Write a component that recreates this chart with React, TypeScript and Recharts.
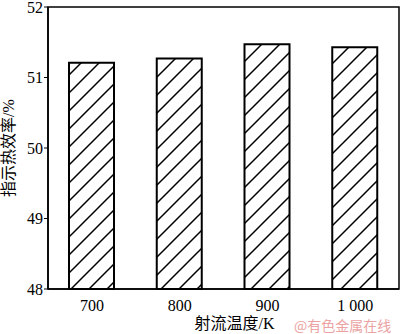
import { BarChart, Bar, XAxis, YAxis, Label, ReferenceArea } from "recharts";

const temperatures = ["700", "800", "900", "1 000"];
const efficiency = [51.21, 51.27, 51.47, 51.43];
const yTicks = [48, 49, 50, 51, 52];

const data = temperatures.map((t, i) => ({ name: t, value: efficiency[i] }));

const serif = "'Liberation Serif', 'Noto Sans CJK SC', serif";

export default function App() {
  return (
    <div style={{ position: "absolute", left: 0, top: 0, width: 400, height: 334, background: "#fff" }}>
      <BarChart
        width={400}
        height={334}
        data={data}
        margin={{ top: 7, right: 1, bottom: 0, left: 0 }}
      >
        <defs>
          <pattern id="hatch" patternUnits="userSpaceOnUse" width={18} height={18}>
            <path
              d="M0,18 L18,0 M-4.5,4.5 L4.5,-4.5 M13.5,22.5 L22.5,13.5"
              stroke="#000"
              strokeWidth={1.5}
            />
          </pattern>
        </defs>
        <ReferenceArea y1={48} y2={52} fill="none" stroke="#000" strokeWidth={1.5} ifOverflow="visible" />
        <XAxis
          dataKey="name"
          height={45}
          tickLine={false}
          axisLine={{ stroke: "#000", strokeWidth: 1.5 }}
          tick={{ fill: "#000", fontSize: 16, fontFamily: serif }}
          tickMargin={5}
        >
          <Label
            value="射流温度/K"
            position="insideBottom"
            dx={11}
            offset={5}
            style={{ fill: "#000", fontSize: 16, fontFamily: serif }}
          />
        </XAxis>
        <YAxis
          domain={[48, 52]}
          ticks={yTicks}
          width={48}
          tickSize={4}
          tickMargin={1}
          interval={0}
          axisLine={{ stroke: "#000", strokeWidth: 1.5 }}
          tickLine={{ stroke: "#000" }}
          tick={{ fill: "#000", fontSize: 16, fontFamily: serif }}
        >
          <Label
            value="指示热效率/%"
            angle={-90}
            position="insideLeft"
            offset={8}
            style={{ fill: "#000", fontSize: 16, fontFamily: serif, textAnchor: "middle" }}
          />
        </YAxis>
        <Bar
          dataKey="value"
          fill="url(#hatch)"
          stroke="#000"
          strokeWidth={2}
          barSize={45}
          isAnimationActive={false}
        />
      </BarChart>
      <div
        style={{
          position: "absolute",
          left: 294,
          top: 317,
          fontSize: 14,
          lineHeight: "16px",
          color: "#eba3a3",
          fontFamily: "'Noto Sans CJK SC', sans-serif",
          whiteSpace: "nowrap",
        }}
      >
        @有色金属在线
      </div>
    </div>
  );
}
